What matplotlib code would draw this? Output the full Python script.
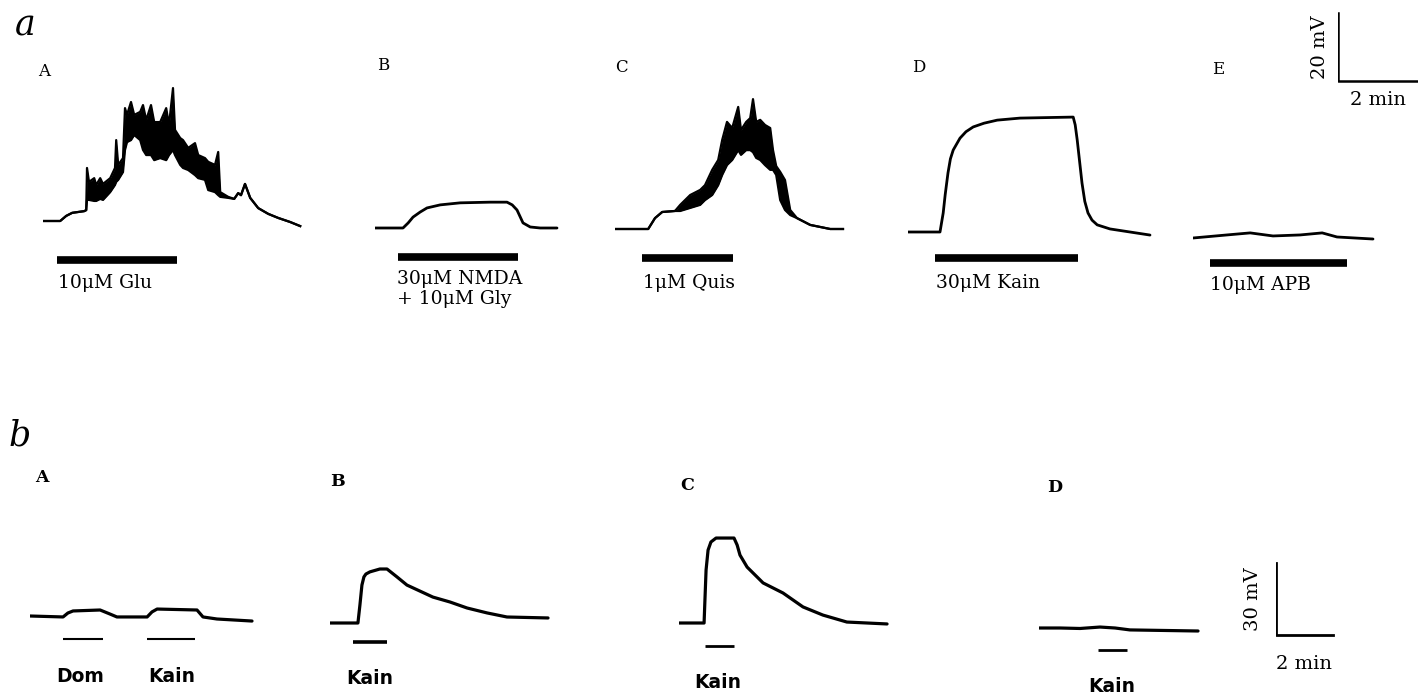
import matplotlib
matplotlib.use("Agg")
import matplotlib.pyplot as plt

# ---- data (time in min from start of each trace, potential in mV from baseline) ----
# a-A: 10uM Glu (noisy, given as lower / upper envelope)
glu_t = [0.00, 0.43, 0.58, 0.73, 1.03, 1.08, 1.10, 1.15, 1.28, 1.33, 1.43, 1.50,
         1.68, 1.80, 1.83, 1.88, 2.00, 2.05, 2.10, 2.20, 2.28, 2.43, 2.50, 2.58,
         2.70, 2.78, 2.93, 3.08, 3.15, 3.25, 3.30, 3.43, 3.50, 3.63, 3.80, 3.88,
         4.05, 4.13, 4.30, 4.38, 4.43, 4.63, 4.78, 4.88, 4.95, 5.05, 5.18, 5.38,
         5.63, 5.88, 6.18, 6.43]
glu_hi = [0, 0, 1.5, 2.4, 2.9, 3.2, 15.6, 11.5, 12.6, 10.6, 12.6, 10.9,
          12.6, 15.6, 23.8, 16.5, 18.5, 33.2, 31.2, 35.0, 31.2, 32.1, 34.1, 29.7,
          34.1, 29.1, 29.1, 33.2, 28.2, 39.1, 26.8, 24.4, 23.8, 21.5, 22.9, 19.4,
          18.5, 17.4, 16.5, 20.3, 8.5, 7.1, 6.5, 8.2, 7.6, 10.9, 6.8, 3.8,
          2.1, 0.9, -0.3, -1.5]
glu_lo = [0, 0, 1.5, 2.4, 2.9, 3.2, 6.2, 6.2, 5.9, 5.9, 6.5, 6.2,
          8.5, 10.6, 11.5, 12.1, 14.4, 20.9, 23.2, 23.8, 25.3, 23.8, 20.9, 19.4,
          19.4, 17.9, 18.5, 17.9, 19.4, 20.9, 19.4, 16.5, 15.6, 15.0, 13.5, 12.6,
          12.1, 9.1, 8.5, 7.6, 7.1, 6.8, 6.5, 8.2, 7.6, 10.9, 6.8, 3.8,
          2.1, 0.9, -0.3, -1.5]

# a-B: 30uM NMDA + 10uM Gly
nmda_t = [0, 0.70, 0.83, 0.95, 1.13, 1.30, 1.63, 2.13, 2.88, 3.30, 3.43, 3.55, 3.70, 3.88, 4.13, 4.55]
nmda_v = [0, 0, 1.5, 3.2, 4.7, 5.9, 6.8, 7.4, 7.6, 7.6, 6.8, 5.3, 1.5, 0.3, 0, 0]

# a-C: 1uM Quis (noisy)
quis_t = [0, 0.83, 1.0, 1.18, 1.50, 1.63, 1.88, 2.13, 2.25, 2.43, 2.58, 2.68, 2.80, 2.93,
          3.08, 3.15, 3.28, 3.38, 3.45, 3.53, 3.63, 3.75, 3.88, 3.95, 4.03, 4.13, 4.25,
          4.38, 4.55, 4.88, 5.38, 5.70]
quis_hi = [0, 0, 3.2, 5.0, 5.3, 7.1, 10.0, 11.5, 12.9, 17.4, 20.3, 26.2, 31.5, 29.7,
           35.9, 29.1, 31.5, 32.6, 38.2, 31.5, 32.1, 30.6, 29.7, 23.2, 18.5, 16.8, 14.4,
           5.6, 3.2, 1.2, 0, 0]
quis_lo = [0, 0, 3.2, 5.0, 5.3, 5.3, 6.2, 7.1, 8.5, 10.0, 12.9, 15.9, 18.8, 20.3,
           23.2, 21.8, 23.2, 23.2, 22.6, 20.9, 20.3, 18.8, 17.4, 17.4, 15.9, 8.5, 5.6,
           4.1, 3.2, 1.2, 0, 0]

# a-D: 30uM Kain
kain_t = [0, 0.80, 0.88, 0.93, 1.0, 1.06, 1.13, 1.30, 1.45, 1.63, 1.90, 2.23, 2.80, 4.13,
          4.18, 4.23, 4.35, 4.42, 4.50, 4.60, 4.73, 5.05, 6.05]
kain_v = [0, 0, 5.6, 11.0, 17.4, 21.5, 24.1, 27.6, 29.5, 30.9, 32.0, 32.9, 33.5, 33.8,
          31.5, 27.1, 14.4, 9.0, 5.6, 3.5, 2.1, 0.9, -0.9]

# a-E: 10uM APB
apb_t = [0, 0.85, 1.43, 2.0, 2.68, 3.23, 3.6, 4.5]
apb_v = [0, 0.9, 1.5, 0.6, 0.9, 1.5, 0.3, -0.3]

# drug application periods, row a
a_labels = ["10\u03bcM Glu", "30\u03bcM NMDA\n+ 10\u03bcM Gly", "1\u03bcM Quis",
            "30\u03bcM Kain", "10\u03bcM APB"]
a_on = [(0.35, 3.35), (0.58, 3.58), (0.68, 2.95), (0.68, 4.25), (0.43, 3.85)]

# b-A: Dom then Kain
dk_t = [0, 1.16, 1.33, 1.51, 2.46, 2.81, 3.05, 4.11, 4.28, 4.46, 5.86, 6.07, 6.56, 7.79]
dk_v = [0, -0.4, 1.25, 2.1, 2.5, 0.8, -0.4, -0.4, 1.7, 2.9, 2.5, -0.4, -1.25, -2.1]
# b-B
kb_t = [0, 0.98, 1.05, 1.12, 1.19, 1.26, 1.40, 1.75, 2.0, 2.35, 2.70, 3.61, 4.21, 4.81, 5.51, 6.21, 7.65]
kb_v = [0, 0, 7.5, 15.8, 19.2, 20.4, 21.3, 22.5, 22.5, 19.2, 15.8, 10.8, 8.75, 6.25, 4.2, 2.5, 2.1]
# b-C
kc_t = [0, 0.88, 0.91, 0.95, 1.02, 1.12, 1.30, 1.93, 2.04, 2.14, 2.39, 2.95, 3.65, 4.35, 5.05, 5.89, 7.30]
kc_v = [0, 0, 9.6, 22.1, 30.4, 33.75, 35.4, 35.4, 32.5, 28.3, 23.3, 16.7, 12.5, 6.7, 3.3, 0.4, -0.4]
# b-D
kd_t = [0, 0.74, 1.44, 2.14, 2.67, 3.19, 4.25, 5.58]
kd_v = [0, 0, -0.2, 0.4, 0, -0.8, -1.0, -1.25]

# drug application periods, row b
b_on = [[(1.16, 2.56), (4.11, 5.79)], [(0.81, 2.0)], [(0.91, 1.93)], [(2.07, 3.09)]]
b_labels = [["Dom", "Kain"], ["Kain"], ["Kain"], ["Kain"]]

# scale bars
a_scale = (20, 2)   # mV, min
b_scale = (30, 2)

# ---- layout (pixels) ----
W, H = 1418, 699
PXMIN_A, PXMV_A = 40.0, 3.4
PXMIN_B, PXMV_B = 28.5, 2.4
a_origin = [(43, 221), (375, 228), (615, 229), (908, 232), (1193, 238)]
b_origin = [(30, 616), (330, 623), (679, 623), (1039, 628)]
a_bar_off = [-11.5, -8.5, -8.5, -7.6, -7.4]
b_bar_off = [-9.6, -7.9, -9.6, -9.2]
b_bar_lw = [1.5, 2.6, 2.0, 2.0]

SERIF = ["DejaVu Serif"]
SANS = ["DejaVu Sans"]

fig = plt.figure(figsize=(W / 100, H / 100), dpi=100)


def panel(x0, base, pxmin, pxmv, width=330, up=170, down=70):
    ax = fig.add_axes([x0 / W, 1 - (base + down) / H, width / W, (up + down) / H])
    ax.set_xlim(0, width / pxmin)
    ax.set_ylim(-down / pxmv, up / pxmv)
    ax.axis("off")
    return ax


def ftext(x, y, s, **kw):
    fig.text(x / W, 1 - y / H, s, **kw)


# ---- row a ----
axs_a = [panel(x, b, PXMIN_A, PXMV_A) for x, b in a_origin]
for ax, t, lo, hi in [(axs_a[0], glu_t, glu_lo, glu_hi), (axs_a[2], quis_t, quis_lo, quis_hi)]:
    ax.fill_between(t, lo, hi, color="k", lw=0)
    ax.plot(t, hi, color="k", lw=1.6, solid_joinstyle="round")
    ax.plot(t, lo, color="k", lw=1.6, solid_joinstyle="round")
for ax, t, v in [(axs_a[1], nmda_t, nmda_v), (axs_a[3], kain_t, kain_v), (axs_a[4], apb_t, apb_v)]:
    ax.plot(t, v, color="k", lw=2.0, solid_joinstyle="round", solid_capstyle="round")
for ax, (t0, t1), off in zip(axs_a, a_on, a_bar_off):
    ax.plot([t0, t1], [off, off], color="k", lw=5.5, solid_capstyle="butt")

# scale bar a
sa = panel(1338, 81, PXMIN_A, PXMV_A, width=100, up=80, down=10)
sa.plot([0, 0, a_scale[1]], [a_scale[0], 0, 0], color="k", lw=1.8)

ftext(15, 25, "a", family=SERIF, style="italic", fontsize=25, va="center")
for (x, y), s in zip([(38, 72), (377, 65), (615, 68), (912, 68), (1212, 70)], "ABCDE"):
    ftext(x, y, s, family=SERIF, fontsize=12, va="center")
lab_pos = [(58, 283), (397, 289), (643, 283), (936, 283), (1210, 285)]
for (x, y), s in zip(lab_pos, a_labels):
    ftext(x, y, s, family=SERIF, fontsize=13.5, va="center", linespacing=1.2)
ftext(1320, 47, "%d mV" % a_scale[0], family=SERIF, fontsize=14, rotation=90,
      ha="center", va="center")
ftext(1378, 100, "%d min" % a_scale[1], family=SERIF, fontsize=14, ha="center", va="center")

# ---- row b ----
axs_b = [panel(x, b, PXMIN_B, PXMV_B) for x, b in b_origin]
for ax, t, v in zip(axs_b, [dk_t, kb_t, kc_t, kd_t], [dk_v, kb_v, kc_v, kd_v]):
    ax.plot(t, v, color="k", lw=2.3, solid_joinstyle="round", solid_capstyle="round")
for ax, ons, off, lw in zip(axs_b, b_on, b_bar_off, b_bar_lw):
    for t0, t1 in ons:
        ax.plot([t0, t1], [off, off], color="k", lw=lw, solid_capstyle="butt")

sb = panel(1276, 635, PXMIN_B, PXMV_B, width=100, up=90, down=10)
sb.plot([0, 0, b_scale[1]], [b_scale[0], 0, 0], color="k", lw=2.0)

ftext(8, 436, "b", family=SERIF, style="italic", fontsize=25, va="center")
for (x, y), s in zip([(35, 478), (330, 482), (680, 485), (1047, 488)], "ABCD"):
    ftext(x, y, s, family=SERIF, fontweight="bold", fontsize=12.5, va="center")
b_lab_pos = [[(80, 677), (172, 677)], [(370, 678)], [(718, 682)], [(1112, 687)]]
for poss, labs in zip(b_lab_pos, b_labels):
    for (x, y), s in zip(poss, labs):
        ftext(x, y, s, family=SANS, fontweight="bold", fontsize=13.5, ha="center", va="center")
ftext(1253, 599, "%d mV" % b_scale[0], family=SERIF, fontsize=14, rotation=90,
      ha="center", va="center")
ftext(1304, 664, "%d min" % b_scale[1], family=SERIF, fontsize=14, ha="center", va="center")

fig.savefig("out.png", dpi=100, facecolor="white")
